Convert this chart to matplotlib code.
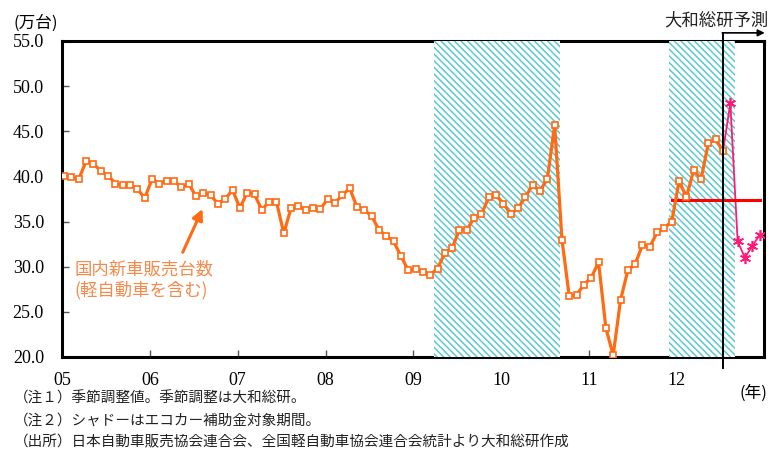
import matplotlib
matplotlib.use("Agg")
import matplotlib.pyplot as plt
import numpy as np

# monthly values (10k units), Jan 2005 .. Jul 2012
actual = [
    40.0, 39.9, 39.7, 41.7, 41.4, 40.6, 40.1, 39.2, 39.0, 39.1, 38.6, 37.6,
    39.7, 39.2, 39.5, 39.5, 38.8, 39.2, 37.8, 38.2, 37.9, 37.0, 37.5, 38.5,
    36.5, 38.2, 38.0, 36.3, 37.2, 37.2, 33.7, 36.5, 36.7, 36.3, 36.5, 36.4,
    37.5, 37.1, 37.9, 38.7, 36.6, 36.3, 35.6, 34.1, 33.4, 32.8, 31.2, 29.6,
    29.7, 29.4, 29.1, 29.8, 31.5, 32.1, 34.1, 34.1, 35.4, 35.8, 37.7, 37.9,
    37.0, 35.8, 36.5, 37.7, 39.1, 38.4, 39.7, 45.7, 33.0, 26.7, 26.9, 28.0,
    28.8, 30.5, 23.2, 20.2, 26.3, 29.6, 30.3, 32.4, 32.2, 33.8, 34.3, 35.0,
    39.5, 37.7, 40.7, 39.7, 43.7, 44.1, 42.8,
]
# Daiwa forecast, Jul 2012 .. Dec 2012
forecast = [42.8, 48.1, 32.8, 31.0, 32.3, 33.5]
forecast_start = 90
avg_level = 37.4
avg_span = [83, 95]
subsidy_periods = [(50.5, 67.7), (82.6, 91.6)]
year_labels = ["05", "06", "07", "08", "09", "10", "11", "12"]
y_ticks = [20, 25, 30, 35, 40, 45, 50, 55]

jp = ["Noto Sans CJK JP", "DejaVu Sans"]
num_font = "Liberation Serif"

fig = plt.figure(figsize=(7.69, 4.5), dpi=100)
ax = fig.add_axes([0.0806, 0.2067, 0.9129, 0.7022])

x_act = np.arange(len(actual))
x_fc = np.arange(forecast_start, forecast_start + len(forecast))

plt.rcParams["hatch.linewidth"] = 1.1
for s, e in subsidy_periods:
    ax.axvspan(s, e, facecolor="white", edgecolor="#5cc8cf", hatch="\\\\\\\\\\",
               linewidth=0, zorder=2.6)

ax.plot(x_act, actual, color="#ff6a13", lw=2.3, marker="s", ms=4.2,
        mfc="white", mec="#ff6a13", mew=1.2, zorder=4)
ax.plot(x_fc, forecast, color="#ff1a75", lw=1.3, marker=(6, 2, 0), ms=8,
        mew=1.2, markevery=list(range(1, len(forecast))), zorder=3.5)
ax.plot(avg_span, [avg_level, avg_level], color="#ff0000", lw=2.2, zorder=3.8)

ax.set_xlim(-0.3, 95.6)
ax.set_ylim(20, 55)
ax.set_yticks(y_ticks)
ax.set_yticklabels([f"{v:.1f}" for v in y_ticks], fontname=num_font, fontsize=13)
ax.set_xticks([12 * k - 0.3 for k in range(len(year_labels))])
ax.set_xticklabels(year_labels, fontname=num_font, fontsize=13)
ax.tick_params(axis="both", direction="in", length=5, width=1, color="#555555")
ax.tick_params(axis="x", pad=11)
ax.tick_params(axis="y", pad=13)
for sp in ax.spines.values():
    sp.set_linewidth(2.2)
    sp.set_color("black")

# forecast marker line and arrow
ax.plot([forecast_start, forecast_start], [18.8, 55.9], color="black", lw=1.4,
        clip_on=False, zorder=5)
ax.annotate("", xy=(95.7, 55.9), xytext=(forecast_start - 0.1, 55.9),
            arrowprops=dict(arrowstyle="-|>", color="black", lw=1.2,
                            mutation_scale=10, shrinkA=0, shrinkB=0),
            annotation_clip=False, zorder=5)
fig.text(0.999, 0.955, "大和総研予測", family=jp, fontsize=12.5, ha="right",
         va="center", color="#222222")

# series label
ax.annotate("", xy=(18.9, 36.4), xytext=(16.2, 31.6),
            arrowprops=dict(arrowstyle="-|>", color="#ff6a13", lw=2.2,
                            mutation_scale=16, shrinkA=0, shrinkB=0), zorder=5)
ax.text(1.4, 29.7, "国内新車販売台数", family=jp, fontsize=12.5, color="#f5894a",
        va="center", ha="left")
ax.text(1.4, 27.4, "(軽自動車を含む)", family=jp, fontsize=12.5, color="#f5894a",
        va="center", ha="left")

fig.text(0.017, 0.949, "(万台)", family=jp, fontsize=12, va="center", ha="left")
fig.text(0.998, 0.127, "(年)", family=jp, fontsize=12, va="center", ha="right")

notes = [
    "（注１）季節調整値。季節調整は大和総研。",
    "（注２）シャドーはエコカー補助金対象期間。",
    "（出所）日本自動車販売協会連合会、全国軽自動車協会連合会統計より大和総研作成",
]
for k, line in enumerate(notes):
    fig.text(0.018, 0.114 - k * 0.048, line, family=jp, fontsize=10.5,
             va="center", ha="left", color="#222222")

fig.savefig("out.png", dpi=100)
